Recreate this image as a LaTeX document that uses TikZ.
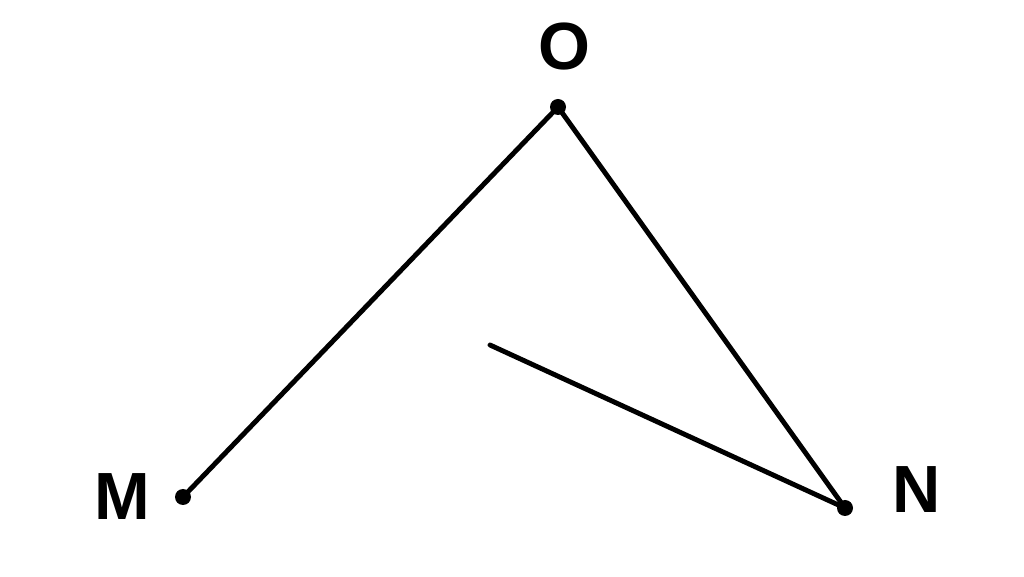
\documentclass[tikz,border=0pt]{standalone}
\usepackage{fontspec}
\setmainfont{Liberation Sans}
\usepackage{tikz}

\tikzset{
    seg/.style={line width=1.4pt, line cap=round},
    pt/.style={circle, fill=black, inner sep=0pt, minimum size=0.16cm},
    lbl/.style={font=\bfseries\fontsize{19}{19}\selectfont}
}

\begin{document}
\begin{tikzpicture}[scale=1.0]
    \useasboundingbox (0,0) rectangle (10.24,5.77);

    % Points
    \node[pt] (O) at (5.58,4.70) {};
    \node[pt] (M) at (1.83,0.80) {};
    \node[pt] (N) at (8.45,0.69) {};
    \coordinate (P) at (4.90,2.32);

    % Segments
    \draw[seg] (O.center) -- (M.center);
    \draw[seg] (O.center) -- (N.center);
    \draw[seg] (N.center) -- (P);

    % Labels
    \node[lbl] (lO) at (5.64,5.30) {O};
    \node[lbl] (lM) at (1.22,0.80) {M};
    \node[lbl] (lN) at (9.17,0.87) {N};
\end{tikzpicture}
\end{document}
